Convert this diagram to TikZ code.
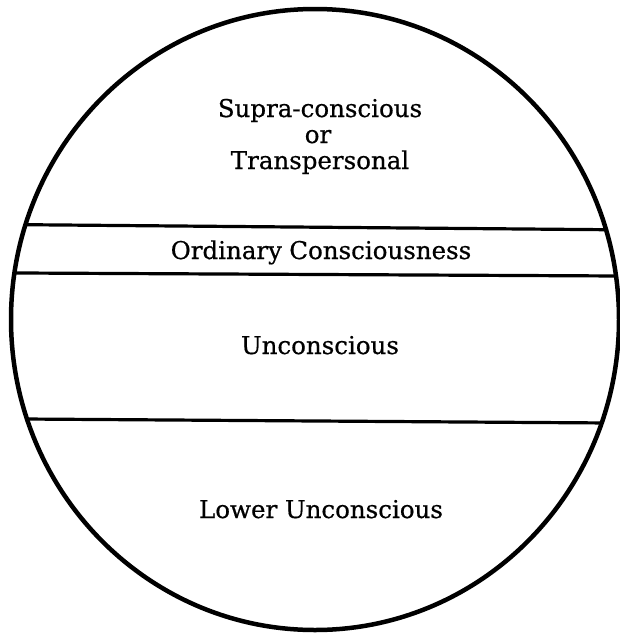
\documentclass[tikz,border=0pt]{standalone}
\usepackage{fontspec}
\setmainfont{DejaVu Serif}[FakeBold=0.6]
\begin{document}
\begin{tikzpicture}[x=1pt,y=-1pt,
  rim/.style={line width=4.5pt},
  band/.style={line width=3.2pt},
  lbl/.style={anchor=base,inner sep=0pt,font=\fontsize{24.5}{28}\selectfont}]
\useasboundingbox (0,0) rectangle (620,633);
\coordinate (c) at (315,319.5);
\def\rimpath{(c) ellipse [x radius=304, y radius=310.5]}
% band lines, clipped to the circle
\coordinate (a1) at (-20,224.3); \coordinate (b1) at (640,230.0);
\coordinate (a2) at (-20,272.8); \coordinate (b2) at (640,276.1);
\coordinate (a3) at (-20,418.7); \coordinate (b3) at (640,423.2);
\begin{scope}
  \clip \rimpath;
  \draw[band] (a1) -- (b1);
  \draw[band] (a2) -- (b2);
  \draw[band] (a3) -- (b3);
\end{scope}
\draw[rim] \rimpath;
% labels
\node[lbl] (supra) at (320,117) {Supra-conscious};
\node[lbl] (or) at (318,143) {or};
\node[lbl] (trans) at (320,169) {Transpersonal};
\node[lbl] (ord) at (321,259) {Ordinary\hspace{0.3em}Consciousness};
\node[lbl] (unc) at (320,354) {Unconscious};
\node[lbl] (low) at (321,518) {Lower Unconscious};
\end{tikzpicture}
\end{document}
